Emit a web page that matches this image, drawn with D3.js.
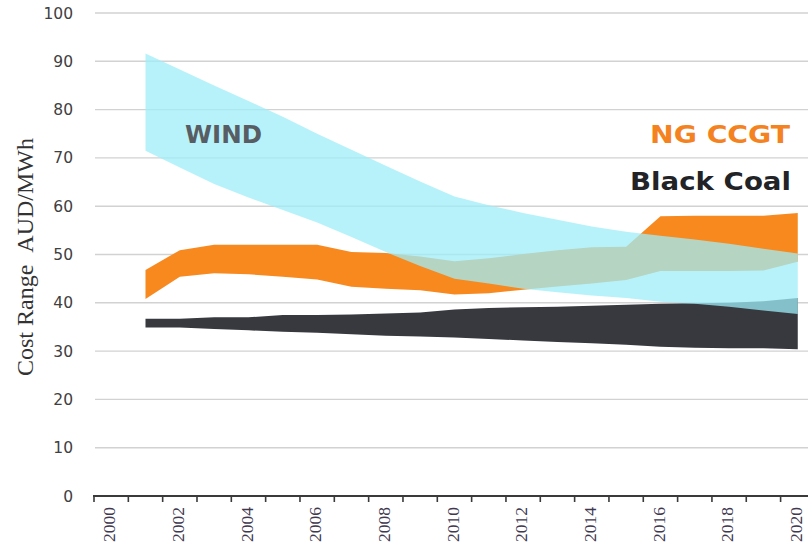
<!DOCTYPE html>
<html>
<head>
<meta charset="utf-8">
<script src="https://cdn.jsdelivr.net/npm/d3@7"></script>
<style>
  html, body { margin: 0; padding: 0; background: #ffffff; }
  svg { display: block; }
</style>
</head>
<body>
<svg id="chart" width="808" height="548"></svg>
<script>
// ---------- data ----------
const categories = ["2000","2001","2002","2003","2004","2005","2006","2007","2008","2009","2010",
                    "2011","2012","2013","2014","2015","2016","2017","2018","2019","2020"];
const years = ["2001","2002","2003","2004","2005","2006","2007","2008","2009","2010",
               "2011","2012","2013","2014","2015","2016","2017","2018","2019","2020"];
const xTickLabels = ["2000","2002","2004","2006","2008","2010","2012","2014","2016","2018","2020"];
const yTicks = [0,10,20,30,40,50,60,70,80,90,100];

const windHigh = [91.6,88.3,85.0,81.8,78.5,75.0,71.7,68.4,65.1,62.0,60.2,58.6,57.2,55.8,54.7,53.9,53.1,52.2,51.2,50.2];
const windLow  = [71.5,68.0,64.6,61.8,59.2,56.6,53.6,50.5,47.6,45.0,44.0,42.9,42.2,41.5,41.0,40.2,39.8,39.2,38.4,37.7];
const ngHigh   = [46.8,50.9,52.0,52.0,52.0,52.0,50.5,50.3,49.6,48.6,49.2,50.1,50.9,51.5,51.6,57.9,58.0,58.0,58.0,58.6];
const ngLow    = [40.8,45.4,46.1,45.9,45.4,44.8,43.3,42.9,42.6,41.7,42.0,42.7,43.4,44.0,44.7,46.6,46.6,46.6,46.7,48.5];
const coalHigh = [36.7,36.7,37.0,37.0,37.5,37.5,37.6,37.8,38.0,38.6,38.9,39.1,39.2,39.4,39.6,39.8,39.9,40.0,40.3,41.0];
const coalLow  = [34.9,34.9,34.6,34.3,34.0,33.8,33.5,33.2,33.0,32.8,32.5,32.2,31.9,31.6,31.3,30.9,30.7,30.6,30.6,30.4];

// ---------- layout ----------
const svg = d3.select("#chart");
const x = d3.scaleBand().domain(categories).range([94, 94 + 21 * 34.33]).paddingInner(0).paddingOuter(0);
const y = d3.scaleLinear().domain([0, 100]).range([496, 13]);
const cx = d => x(d) + x.bandwidth() / 2;

// gridlines
svg.append("g").selectAll("line")
  .data(yTicks.filter(v => v > 0))
  .join("line")
  .attr("x1", 95).attr("x2", 808)
  .attr("y1", d => y(d)).attr("y2", d => y(d))
  .attr("stroke", "#d2d2d2").attr("stroke-width", 1.4);

// y tick labels
svg.append("g").selectAll("text")
  .data(yTicks)
  .join("text")
  .attr("x", 73).attr("y", d => y(d))
  .attr("dy", "0.36em")
  .attr("text-anchor", "end")
  .attr("font-family", "DejaVu Sans, Verdana, sans-serif")
  .attr("font-size", 15.5)
  .attr("fill", "#404040")
  .text(d => d);

// y axis title
svg.append("text")
  .attr("transform", "translate(33,257) rotate(-90)")
  .attr("text-anchor", "middle")
  .attr("font-family", "Liberation Serif, Times New Roman, serif")
  .attr("font-size", 24)
  .attr("fill", "#333333")
  .text("Cost Range\u00A0\u00A0AUD/MWh");

// ---------- areas ----------
function band(hi, lo) {
  return d3.area()
    .x((d, i) => cx(years[i]))
    .y0((d, i) => y(lo[i]))
    .y1((d, i) => y(hi[i]))(years);
}

svg.append("path").attr("d", band(ngHigh, ngLow)).attr("fill", "#f7891f");
svg.append("path").attr("d", band(coalHigh, coalLow)).attr("fill", "#37393f");
svg.append("path").attr("d", band(windHigh, windLow)).attr("fill", "#9fedf8").attr("fill-opacity", 0.75);

// ---------- x axis ----------
const axis = d3.axisBottom(x).tickSize(0).tickValues(xTickLabels);
const gx = svg.append("g").attr("transform", "translate(0,496)").call(axis);
gx.select(".domain").remove();
gx.selectAll("text")
  .attr("transform", "rotate(-90)")
  .attr("x", -11).attr("y", -2).attr("dy", "0.35em")
  .attr("text-anchor", "end")
  .attr("font-family", "Liberation Serif, Times New Roman, serif")
  .attr("font-size", 17.5)
  .attr("fill", "#40384f");

svg.append("line")
  .attr("x1", 93).attr("x2", 808)
  .attr("y1", 496).attr("y2", 496)
  .attr("stroke", "#3a3a3a").attr("stroke-width", 2);

svg.append("g").selectAll("line")
  .data(categories)
  .join("line")
  .attr("x1", d => x(d)).attr("x2", d => x(d))
  .attr("y1", 496).attr("y2", 502)
  .attr("stroke", "#3a3a3a").attr("stroke-width", 1.6);

// ---------- series labels ----------
svg.append("text")
  .attr("x", 185).attr("y", 143)
  .attr("font-family", "DejaVu Sans, Verdana, sans-serif")
  .attr("font-weight", "bold").attr("font-size", 24)
  .attr("textLength", 77).attr("lengthAdjust", "spacingAndGlyphs")
  .attr("fill", "#585d63")
  .text("WIND");

svg.append("text")
  .attr("x", 650).attr("y", 143)
  .attr("font-family", "DejaVu Sans, Verdana, sans-serif")
  .attr("font-weight", "bold").attr("font-size", 24)
  .attr("textLength", 140).attr("lengthAdjust", "spacingAndGlyphs")
  .attr("fill", "#f58220")
  .text("NG CCGT");

svg.append("text")
  .attr("x", 630).attr("y", 190)
  .attr("font-family", "DejaVu Sans, Verdana, sans-serif")
  .attr("font-weight", "bold").attr("font-size", 24)
  .attr("textLength", 161).attr("lengthAdjust", "spacingAndGlyphs")
  .attr("fill", "#222327")
  .text("Black Coal");
</script>
</body>
</html>
